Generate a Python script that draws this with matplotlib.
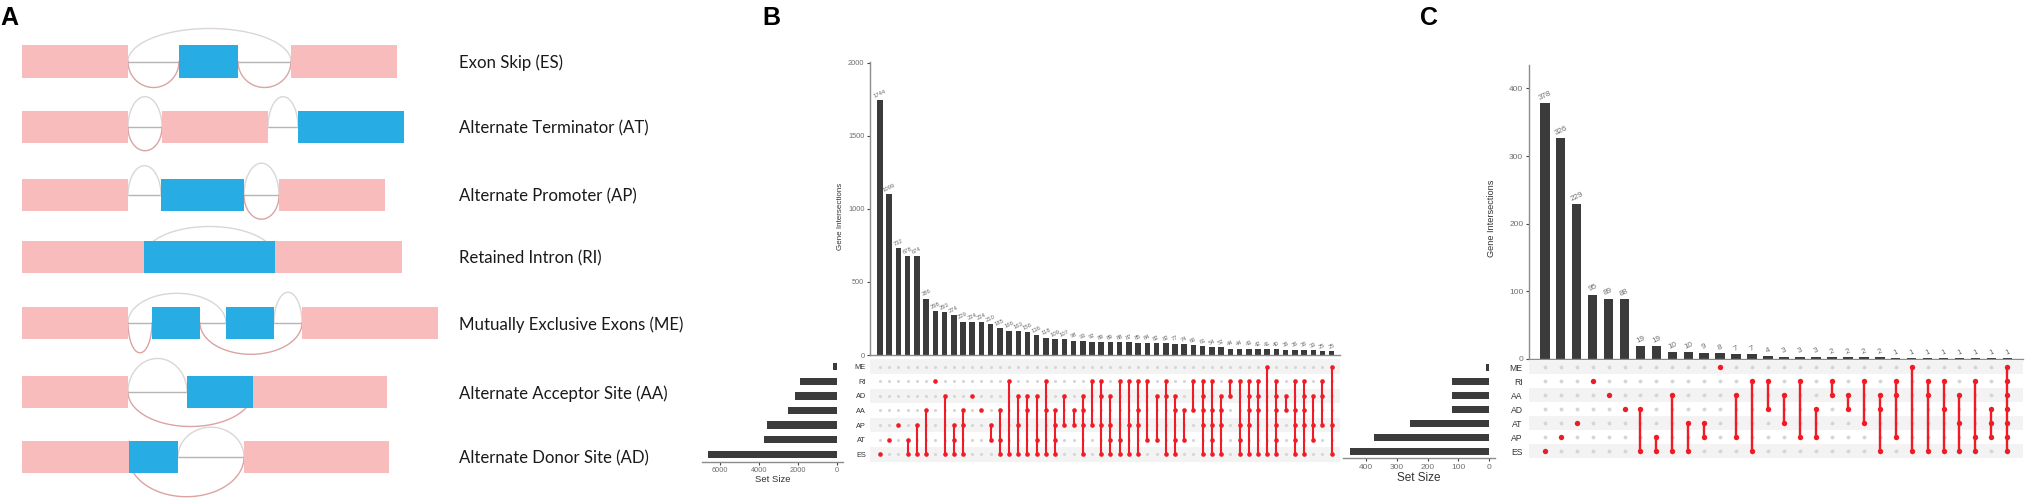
import numpy as np
import matplotlib
matplotlib.use("Agg")
import matplotlib.pyplot as plt

# ---------------- DATA ----------------
# Panel A: splicing event schematics
A_labels = ["Exon Skip (ES)", "Alternate Terminator (AT)", "Alternate Promoter (AP)",
            "Retained Intron (RI)", "Mutually Exclusive Exons (ME)",
            "Alternate Acceptor Site (AA)", "Alternate Donor Site (AD)"]
A_exons = [
    [(22, 128, 'c'), (179, 238, 'a'), (291, 397, 'c')],
    [(22, 128, 'c'), (162, 268, 'c'), (298, 404, 'a')],
    [(22, 128, 'c'), (161, 244, 'a'), (279, 385, 'c')],
    [(22, 144, 'c'), (144, 275, 'a'), (275, 402, 'c')],
    [(22, 128, 'c'), (152, 200, 'a'), (226, 274, 'a'), (302, 438, 'c')],
    [(22, 128, 'c'), (187, 253, 'a'), (253, 387, 'c')],
    [(22, 129, 'c'), (129, 178, 'a'), (244, 389, 'c')],
]
A_arcs = [
    [(128, 291, 'up', 33), (128, 179, 'down', 26), (238, 291, 'down', 26)],
    [(128, 162, 'up', 30.5), (128, 162, 'down', 23.5), (268, 298, 'up', 30.5)],
    [(128, 161, 'up', 29.5), (244, 279, 'up', 32), (244, 279, 'down', 24)],
    [(144, 275, 'up', 30.5)],
    [(128, 226, 'up', 29.5), (274, 302, 'up', 30.5), (128, 152, 'down', 30), (200, 302, 'down', 31.5)],
    [(128, 187, 'up', 33.5), (128, 253, 'down', 34.5)],
    [(178, 244, 'up', 30), (129, 244, 'down', 39.5)],
]

# Panel B: UpSet plot
B_sets = ["ME", "RI", "AD", "AA", "AP", "AT", "ES"]
B_set_sizes = [230, 1880, 2170, 2510, 3600, 3730, 6630]
B_counts = [1744, 1099, 732, 678, 674, 386, 298, 293, 274, 229, 224, 224, 210, 185, 166,
            163, 156, 136, 118, 109, 107, 98, 93, 92, 89, 89, 88, 87, 85, 84, 82, 82, 77,
            74, 66, 61, 54, 52, 44, 44, 43, 42, 41, 40, 36, 36, 36, 33, 25, 25]
B_members = [
    ["ES"], ["AT"], ["AP"], ["AT", "ES"], ["AP", "ES"], ["AA", "ES"], ["RI"], ["AD", "ES"],
    ["AP", "AT", "ES"], ["AA", "AP", "ES"], ["AD"], ["AA"], ["AP", "AT"], ["AA", "AT", "ES"],
    ["RI", "ES"], ["AD", "AP", "ES"], ["AD", "AA", "ES"], ["AD", "AT", "ES"], ["RI", "AA", "ES"],
    ["AA", "AP", "AT", "ES"], ["AD", "AP"], ["AA", "AP"], ["AD", "AA", "AP", "ES"], ["RI", "AP"],
    ["RI", "AD", "AP", "ES"], ["AD", "AP", "AT", "ES"], ["RI", "AT", "ES"], ["RI", "AP", "ES"],
    ["RI", "AA", "AP", "ES"], ["RI", "AT"], ["AD", "AT"], ["RI", "AD", "ES"],
    ["AD", "AA", "AT", "ES"], ["AA", "AT"], ["RI", "AA"], ["RI", "AD", "AA", "AP", "ES"],
    ["RI", "AA", "AP", "AT", "ES"], ["AD", "AA", "AP", "ES"], ["RI", "AD"], ["RI", "AP", "AT", "ES"],
    ["RI", "AD", "AA", "AP", "ES"], ["RI", "AD", "AA", "ES"], ["ME", "ES"],
    ["RI", "AD", "AA", "AP", "AT", "ES"], ["AD", "AA"], ["RI", "AA", "AP", "AT", "ES"],
    ["RI", "AD", "AA", "AP", "ES"], ["AD", "AP", "AT"], ["RI", "AD", "AP"], ["ME", "AP", "ES"],
]

# Panel C: UpSet plot
C_sets = ["ME", "RI", "AA", "AD", "AT", "AP", "ES"]
C_set_sizes = [12, 120, 120, 121, 257, 373, 452]
C_counts = [378, 326, 229, 95, 89, 88, 19, 19, 10, 10, 9, 8, 7, 7, 4, 3, 3, 3, 2, 2, 2, 2,
            1, 1, 1, 1, 1, 1, 1, 1]
C_members = [
    ["ES"], ["AP"], ["AT"], ["RI"], ["AA"], ["AD"], ["AD", "ES"], ["AP", "ES"], ["AA", "ES"],
    ["AT", "ES"], ["AT", "AP"], ["ME"], ["AA", "AP"], ["RI", "ES"], ["RI", "AD"], ["AA", "AT"],
    ["RI", "AP"], ["AD", "AP"], ["RI", "AA"], ["AA", "AD"], ["RI", "AT"], ["AA", "AD", "ES"],
    ["RI", "AA", "AP"], ["ME", "ES"], ["RI", "AA", "ES"], ["RI", "AD", "ES"], ["AA", "AT", "ES"],
    ["RI", "AP", "ES"], ["AD", "AT", "AP"], ["ME", "RI", "AA", "AD", "AT", "AP", "ES"],
]

# ---------------- LAYOUT ----------------
W, H = 2027, 499
fig = plt.figure(figsize=(W / 100, H / 100), dpi=100)
fig.patch.set_facecolor("white")
SANS = ["Liberation Sans", "DejaVu Sans"]


def box(x0, y0, x1, y1):
    return [x0 / W, 1 - y1 / H, (x1 - x0) / W, (y1 - y0) / H]


# ---------------- PANEL A ----------------
axA = fig.add_axes(box(0, 0, 540, H))
axA.set_xlim(0, 540)
axA.set_ylim(H, 0)
axA.axis("off")
row_y = [61.5, 127.2, 195.2, 257, 322.8, 392, 457.2]
half_h = 16.2
PINK, BLUE = "#f8bcbd", "#27ade3"
LABEL_FONT = ["Lato", "DejaVu Sans"]

# fit label size to the reference width of the longest label (~224 px)
probe = fig.text(0, 0, A_labels[4], fontsize=12, family=LABEL_FONT)
fig.canvas.draw()
wpx = probe.get_window_extent().width
probe.remove()
label_fs = 12 * 224.0 / wpx

for i, (label, exons, arcs) in enumerate(zip(A_labels, A_exons, A_arcs)):
    yc = row_y[i]
    for (s0, e0, _), (s1, e1, _) in zip(exons[:-1], exons[1:]):
        if s1 > e0:
            axA.plot([e0, s1], [yc, yc], color="#b5b5b5", lw=1.0, zorder=1)
    for x0, x1, side, depth in arcs:
        t = np.linspace(0, np.pi, 80)
        xs = (x0 + x1) / 2 + (x1 - x0) / 2 * np.cos(t)
        if side == "up":
            ys = yc - depth * np.sin(t)
            col = "#dcd5d6"
        else:
            ys = yc + depth * np.sin(t)
            col = "#dba3a3"
        axA.plot(xs, ys, color=col, lw=1.0, zorder=1)
    for s, e, kind in exons:
        axA.add_patch(plt.Rectangle((s, yc - half_h), e - s, 2 * half_h,
                                    facecolor=BLUE if kind == 'a' else PINK,
                                    edgecolor="none", zorder=2))
    axA.text(459, yc + 1.5, label, fontsize=label_fs, family=LABEL_FONT,
             va="center", ha="left", color="#1a1a1a")

# panel letters
for letter, x in (("A", 0), ("B", 762), ("C", 1420)):
    fig.text(x / W, 1 - 25 / H, letter, fontsize=18, fontweight="bold",
             family=SANS, va="baseline", ha="left")

BAR = "#3b3b3b"
RED = "#f01b24"
GREY_DOT = "#d6d6d6"
AX_COL = "#8c8c8c"
TXT = "#6e6e6e"


def upset(counts, members, sets, sizes, bar_box, mat_box, size_box, xlim, size_xlim,
          yticks, size_ticks, fs, ylab_xy, setlab_y, dot_s, red_s, lw):
    n = len(counts)
    xs = np.arange(n)
    nrow = len(sets)
    # intersection bars
    axb = fig.add_axes(box(*bar_box))
    axb.bar(xs, counts, width=0.6, color=BAR, zorder=2)
    axb.set_xlim(*xlim)
    axb.set_ylim(0, max(counts) * 1.15)
    axb.set_xticks([])
    axb.set_yticks(yticks)
    axb.set_yticklabels([str(v) for v in yticks], family=SANS, fontsize=fs["tick"], color=TXT)
    axb.tick_params(axis="y", length=2.5, width=0.8, color="#444", pad=1.5)
    for sp in ("top", "right"):
        axb.spines[sp].set_visible(False)
    for sp in ("left", "bottom"):
        axb.spines[sp].set_color(AX_COL)
        axb.spines[sp].set_linewidth(1.0)
    axb.set_facecolor("none")
    for x, c in zip(xs, counts):
        axb.annotate(str(c), (x, c), xytext=(0, 1), textcoords="offset points",
                     ha="center", va="bottom", rotation=25, fontsize=fs["num"],
                     color=TXT, family=SANS)
    fig.text(ylab_xy[0] / W, 1 - ylab_xy[1] / H, "Gene Intersections", rotation=90,
             ha="center", va="center", fontsize=fs["lab"], color="#333", family=SANS)
    # matrix
    axm = fig.add_axes(box(*mat_box))
    axm.set_xlim(*xlim)
    axm.set_ylim(nrow - 0.5, -0.5)
    for r in range(0, nrow, 2):
        axm.axhspan(r - 0.5, r + 0.5, color="#f3f3f3", zorder=0, lw=0)
    gx, gy = np.meshgrid(xs, np.arange(nrow))
    axm.scatter(gx.ravel(), gy.ravel(), s=dot_s, color=GREY_DOT, zorder=1, lw=0)
    for x, mem in zip(xs, members):
        rows = sorted(sets.index(m) for m in mem)
        if len(rows) > 1:
            axm.plot([x, x], [rows[0], rows[-1]], color=RED, lw=lw, zorder=2,
                     solid_capstyle="butt")
        axm.scatter([x] * len(rows), rows, s=red_s, color=RED, zorder=3, lw=0)
    axm.set_xticks([])
    axm.set_yticks(range(nrow))
    axm.set_yticklabels(sets, family=SANS, fontsize=fs["set"], color="#333")
    axm.tick_params(axis="y", length=0, pad=fs["setpad"])
    for sp in axm.spines.values():
        sp.set_visible(False)
    # set sizes
    axs = fig.add_axes(box(*size_box))
    axs.barh(np.arange(nrow), sizes, height=0.5, color=BAR)
    axs.set_xlim(*size_xlim)
    axs.set_ylim(nrow - 0.5, -0.5)
    axs.set_yticks([])
    axs.set_xticks(size_ticks)
    axs.set_xticklabels([str(v) for v in size_ticks], family=SANS, fontsize=fs["tick"], color=TXT)
    axs.tick_params(axis="x", length=2.5, width=0.8, color="#444", pad=1.5)
    for sp in ("top", "right", "left"):
        axs.spines[sp].set_visible(False)
    axs.spines["bottom"].set_color(AX_COL)
    axs.spines["bottom"].set_linewidth(1.0)
    axs.set_facecolor("none")
    cx = (size_box[0] + size_box[2]) / 2
    fig.text(cx / W, 1 - setlab_y / H, "Set Size", ha="center", va="center",
             fontsize=fs["lab2"], color="#333", family=SANS)


upset(B_counts, B_members, B_sets, B_set_sizes,
      bar_box=(870, 61.7, 1340, 355), mat_box=(870, 359.4, 1340, 461.5),
      size_box=(701.7, 359.4, 843, 461.5), xlim=(-1.085, 49.9), size_xlim=(6940, -300),
      yticks=[0, 500, 1000, 1500, 2000], size_ticks=[6000, 4000, 2000, 0],
      fs=dict(tick=5.3, num=4.2, lab=5.8, set=5.3, setpad=3, lab2=6.8),
      ylab_xy=(840, 216), setlab_y=479, dot_s=5, red_s=11, lw=1.5)

upset(C_counts, C_members, C_sets, C_set_sizes,
      bar_box=(1528.8, 65, 2022.5, 358.7), mat_box=(1528.8, 360, 2022.5, 458.3),
      size_box=(1343, 360, 1495, 458.3), xlim=(-1.0, 29.95), size_xlim=(474.6, -18.5),
      yticks=[0, 100, 200, 300, 400], size_ticks=[400, 300, 200, 100, 0],
      fs=dict(tick=6.0, num=5.8, lab=6.6, set=6.2, setpad=4.5, lab2=8.5),
      ylab_xy=(1492, 218), setlab_y=478, dot_s=8, red_s=15, lw=1.7)

fig.savefig("out.png", dpi=100, facecolor="white")
